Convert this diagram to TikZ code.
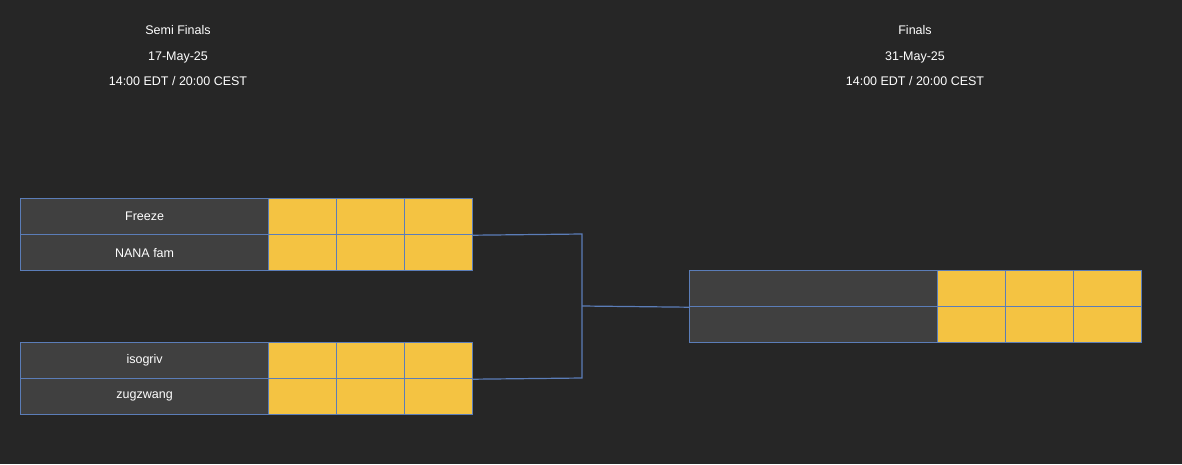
\documentclass[tikz,border=0pt]{standalone}
\usepackage{fontspec}
\setmainfont{Liberation Sans}
\definecolor{bg}{HTML}{262626}
\definecolor{nm}{HTML}{404040}
\definecolor{yl}{HTML}{F4C342}
\definecolor{bl}{HTML}{5B7DB8}
\begin{document}
\begin{tikzpicture}[x=1pt,y=-1pt,
  team/.style={draw=bl,fill=nm,line width=1.2pt,minimum width=248pt,minimum height=36pt,inner sep=0pt,text=white,font=\fontsize{12.5}{14}\selectfont,anchor=north west},
  cell/.style={draw=bl,fill=yl,line width=1.2pt,minimum width=68pt,minimum height=36pt,inner sep=0pt,anchor=north west},
  hdr/.style={text=white,align=center,font=\fontsize{12.5}{25.5}\selectfont},
  con/.style={draw=bl,line width=1.2pt}]
\useasboundingbox[fill=bg] (0,0) rectangle (1182,464);
\node[hdr] (h1) at (178,56) {Semi Finals\\17-May-25\\14:00 EDT / 20:00 CEST};
\node[hdr] (h2) at (915,56) {Finals\\31-May-25\\14:00 EDT / 20:00 CEST};
\foreach \y/\t/\id in {198/Freeze/a,234/NANA fam/b,342/isogriv/c,378/zugzwang/d}{
  \node[team] (n\id) at (20,\y) {\t};
  \node[cell] (\id1) at (268,\y) {};
  \node[cell] (\id2) at (336,\y) {};
  \node[cell] (\id3) at (404,\y) {};
}
\foreach \y/\id in {270/e,306/f}{
  \node[team] (n\id) at (689,\y) {};
  \node[cell] (\id1) at (937,\y) {};
  \node[cell] (\id2) at (1005,\y) {};
  \node[cell] (\id3) at (1073,\y) {};
}
\coordinate (j) at (582,306);
\draw[con] (a3.south east) -- (582,234) -- (582,378) -- (c3.south east);
\draw[con] (j) -- (ne.south west);
\end{tikzpicture}
\end{document}
